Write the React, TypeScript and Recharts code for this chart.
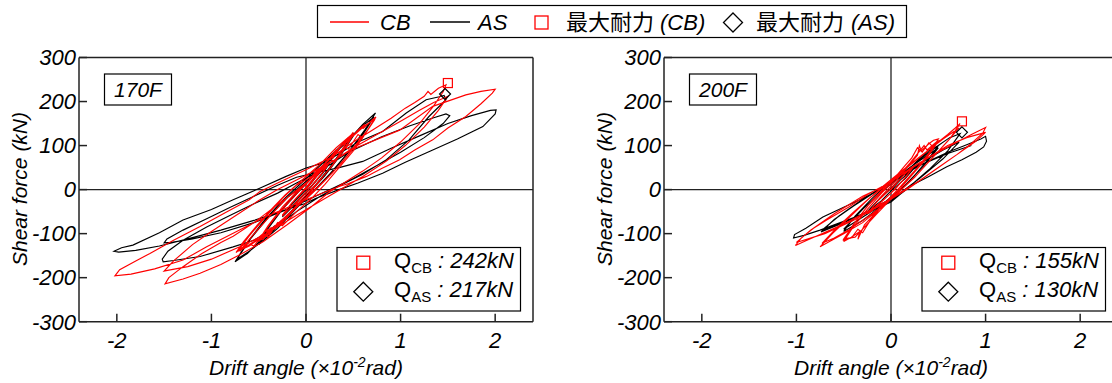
import React from 'react';
import { ComposedChart, Line, Scatter, XAxis, YAxis, ReferenceLine } from 'recharts';

// ---------- data ----------
const xTicks = [-2, -1, 0, 1, 2];
const yTicks = [-300, -200, -100, 0, 100, 200, 300];
const xDomain: [number, number] = [-2.4, 2.4];
const yDomain: [number, number] = [-300, 300];

const panelNames = ['170F', '200F'];
const cbMaxLabels = ['242kN', '155kN'];
const asMaxLabels = ['217kN', '130kN'];

// 170F, CB (red) : [drift angle, shear force]
const cb170: [number, number][] = [
  [0, 0], [0.08, 22], [0.15, 40], [0.22, 55], [0.25, 62], [0.2, 45], [0.1, 18], [0, -6], [-0.1, -28], [-0.18, -45], [-0.25, -60], [-0.2, -44], [-0.1, -18], [0, 5],
  [0.1, 30], [0.25, 63], [0.17, 38], [0.05, 6], [-0.1, -30], [-0.25, -58], [-0.15, -30], [0, 2],
  [0.12, 35], [0.22, 62], [0.3, 80], [0.28, 70], [0.36, 96], [0.42, 108], [0.4, 98], [0.47, 122], [0.5, 130], [0.45, 108], [0.35, 75], [0.22, 40], [0.1, 8], [0, -18],
  [-0.12, -45], [-0.22, -68], [-0.3, -85], [-0.28, -74], [-0.38, -98], [-0.45, -110], [-0.42, -100], [-0.5, -118], [-0.44, -95], [-0.32, -62], [-0.18, -28], [-0.05, 2],
  [0.08, 30], [0.2, 58], [0.32, 90], [0.3, 80], [0.42, 112], [0.5, 125], [0.42, 96], [0.28, 55], [0.12, 15], [0, -12],
  [-0.15, -48], [-0.3, -82], [-0.38, -88], [-0.45, -112], [-0.5, -115], [-0.4, -82], [-0.25, -40], [-0.1, -5],
  [0.05, 25], [0.2, 60], [0.35, 95], [0.45, 118], [0.42, 105], [0.55, 135], [0.62, 148], [0.6, 138], [0.7, 158], [0.74, 165], [0.65, 135], [0.52, 100], [0.38, 62], [0.22, 25], [0.08, -5],
  [-0.1, -40], [-0.3, -80], [-0.42, -100], [-0.4, -90], [-0.55, -118], [-0.65, -132], [-0.62, -122], [-0.74, -143], [-0.66, -118], [-0.52, -82], [-0.38, -48], [-0.22, -12], [-0.05, 20],
  [0.15, 58], [0.32, 95], [0.5, 128], [0.48, 118], [0.62, 145], [0.73, 160], [0.62, 125], [0.45, 80], [0.28, 38], [0.12, 5],
  [-0.05, -28], [-0.25, -68], [-0.45, -105], [-0.6, -128], [-0.72, -140], [-0.6, -105], [-0.42, -60], [-0.25, -20], [-0.1, 10],
  [0.1, 35], [0.25, 70], [0.3, 62], [0.4, 98], [0.45, 92], [0.55, 125], [0.6, 118], [0.7, 152], [0.72, 158], [0.6, 118], [0.5, 88], [0.35, 50], [0.2, 12], [0.05, -22],
  [-0.1, -50], [-0.25, -82], [-0.3, -75], [-0.4, -108], [-0.45, -100], [-0.55, -128], [-0.62, -122], [-0.7, -140], [-0.58, -108], [-0.4, -65], [-0.2, -18], [0, 12],
  [0.1, 40], [0.3, 78], [0.5, 108], [0.7, 135], [0.9, 162], [1.05, 185], [1.15, 198], [1.25, 212], [1.29, 223], [1.32, 216], [1.4, 230], [1.48, 238], [1.45, 222], [1.35, 190], [1.2, 150], [1.0, 108], [0.8, 72], [0.6, 42], [0.4, 15], [0.25, -5],
  [0.05, -40], [-0.2, -80], [-0.45, -118], [-0.7, -148], [-0.9, -170], [-1.12, -190], [-1.3, -203], [-1.49, -214], [-1.45, -200], [-1.3, -175], [-1.1, -145], [-0.9, -120], [-0.77, -106], [-0.55, -75], [-0.35, -42], [-0.15, -10], [0, 15],
  [0.25, 60], [0.5, 95], [0.75, 125], [1.0, 155], [1.2, 180], [1.35, 198], [1.5, 212], [1.4, 180], [1.25, 142], [1.05, 100], [0.85, 65], [0.6, 30], [0.4, 5], [0.2, -20],
  [-0.1, -58], [-0.4, -98], [-0.7, -130], [-1.0, -158], [-1.25, -175], [-1.45, -183], [-1.5, -185], [-1.4, -162], [-1.2, -125], [-1.0, -95], [-0.75, -60], [-0.5, -25], [-0.3, 0], [-0.1, 22],
  [0.2, 55], [0.5, 92], [0.99, 135], [1.34, 189], [1.69, 215], [1.85, 223], [2.0, 228], [1.97, 219], [1.85, 195], [1.69, 166], [1.5, 140], [1.34, 113], [1.15, 90], [0.99, 68], [0.8, 48], [0.64, 30], [0.45, 14], [0.35, 7], [0.15, -10], [0, -23],
  [-0.42, -61], [-0.77, -99], [-1.05, -130], [-1.3, -160], [-1.6, -180], [-1.85, -192], [-2.02, -196], [-1.97, -182], [-1.8, -162], [-1.65, -145], [-1.4, -115], [-1.12, -84], [-0.85, -52], [-0.6, -23], [-0.49, -5], [-0.3, 15], [0, 45], [0.28, 75],
];

// 170F, AS (black)
const as170: [number, number][] = [
  [0, 0], [0.1, 28], [0.2, 52], [0.25, 60], [0.18, 38], [0.05, 5], [-0.1, -30], [-0.25, -62], [-0.16, -35], [0, 0],
  [0.12, 32], [0.25, 62], [0.15, 30], [0, -5], [-0.25, -60], [-0.12, -25], [0, 4],
  [0.15, 42], [0.3, 80], [0.28, 72], [0.4, 105], [0.5, 128], [0.4, 95], [0.25, 50], [0.1, 10], [-0.05, -25], [-0.2, -62], [-0.35, -92], [-0.33, -82], [-0.5, -122], [-0.4, -88], [-0.25, -45], [-0.08, -5],
  [0.1, 35], [0.3, 82], [0.5, 122], [0.38, 82], [0.2, 32], [0, -15], [-0.25, -70], [-0.5, -118], [-0.35, -70], [-0.15, -18],
  [0.05, 25], [0.25, 72], [0.45, 118], [0.43, 108], [0.6, 148], [0.735, 174], [0.62, 135], [0.45, 85], [0.28, 40], [0.1, 0],
  [-0.1, -42], [-0.3, -88], [-0.5, -125], [-0.48, -115], [-0.62, -145], [-0.75, -164], [-0.62, -120], [-0.45, -72], [-0.25, -25], [-0.05, 15],
  [0.2, 65], [0.45, 115], [0.6, 145], [0.72, 165], [0.6, 125], [0.42, 78], [0.25, 35], [0.05, -10],
  [-0.2, -62], [-0.45, -115], [-0.6, -140], [-0.73, -158], [-0.58, -110], [-0.38, -58], [-0.18, -15],
  [0.05, 28], [0.3, 75], [0.55, 108], [0.81, 132], [1.06, 174], [1.27, 204], [1.41, 211], [1.46, 214], [1.48, 204], [1.3, 166], [1.09, 113], [0.85, 68], [0.6, 35], [0.35, 8], [0.15, -15],
  [-0.1, -50], [-0.35, -90], [-0.55, -115], [-0.77, -130], [-1.12, -152], [-1.4, -161], [-1.51, -164], [-1.52, -158], [-1.46, -140], [-1.3, -115], [-1.05, -85], [-0.8, -58], [-0.55, -32], [-0.3, -8], [-0.1, 15],
  [0.15, 42], [0.45, 85], [0.8, 120], [1.1, 145], [1.35, 163], [1.48, 172], [1.52, 168], [1.45, 150], [1.25, 118], [1.0, 85], [0.75, 55], [0.5, 25], [0.3, 5], [0.1, -15],
  [-0.2, -45], [-0.55, -75], [-0.9, -98], [-1.2, -112], [-1.42, -120], [-1.5, -121], [-1.47, -112], [-1.3, -92], [-1.05, -66], [-0.8, -40], [-0.55, -15], [-0.3, 10], [-0.1, 28],
  [0.1, 38], [0.35, 50], [0.6, 64], [0.9, 94], [1.2, 122], [1.5, 150], [1.75, 168], [1.95, 180], [2.01, 181], [2.0, 172], [1.87, 143], [1.6, 115], [1.34, 90], [1.05, 62], [0.81, 37], [0.55, 15], [0.35, 0], [0.1, -20], [0, -31],
  [-0.2, -45], [-0.55, -70], [-0.9, -92], [-1.25, -112], [-1.55, -128], [-1.8, -138], [-1.98, -142], [-2.03, -140], [-1.95, -132], [-1.83, -126], [-1.55, -98], [-1.3, -69], [-1.0, -45], [-0.77, -23], [-0.49, 3], [-0.21, 30], [0, 49], [0.28, 67],
];

// 200F, CB (red)
const cb200: [number, number][] = [
  [0, 0], [0.1, 25], [0.2, 48], [0.25, 55], [0.18, 35], [0.05, 2], [-0.1, -28], [-0.2, -48], [-0.25, -55], [-0.15, -28], [0, 2],
  [0.12, 30], [0.25, 55], [0.12, 20], [0, -8], [-0.25, -55], [-0.1, -15],
  [0.05, 20], [0.18, 52], [0.28, 78], [0.3, 100], [0.32, 88], [0.4, 104], [0.45, 112], [0.5, 115], [0.42, 88], [0.28, 50], [0.12, 12], [0, -18],
  [-0.15, -50], [-0.28, -80], [-0.35, -113], [-0.33, -95], [-0.42, -108], [-0.5, -118], [-0.4, -85], [-0.25, -45], [-0.1, -8],
  [0.05, 25], [0.2, 60], [0.35, 100], [0.38, 90], [0.48, 108], [0.5, 110], [0.38, 72], [0.2, 28], [0.05, -10],
  [-0.15, -55], [-0.3, -90], [-0.38, -108], [-0.5, -112], [-0.35, -65], [-0.18, -20],
  [0.02, 22], [0.15, 55], [0.22, 72], [0.28, 95], [0.33, 85], [0.4, 106], [0.44, 98], [0.5, 112], [0.4, 80], [0.25, 40], [0.08, 2],
  [-0.1, -38], [-0.22, -70], [-0.3, -98], [-0.35, -90], [-0.42, -110], [-0.5, -114], [-0.4, -80], [-0.25, -38], [-0.08, 0],
  [0, 20], [0.2, 55], [0.4, 90], [0.5, 108], [0.6, 125], [0.68, 140], [0.73, 150], [0.62, 115], [0.45, 75], [0.28, 35], [0.1, -2],
  [-0.1, -40], [-0.3, -75], [-0.5, -100], [-0.65, -118], [-0.75, -130], [-0.62, -100], [-0.45, -65], [-0.28, -30], [-0.1, 5],
  [0.1, 40], [0.35, 82], [0.55, 115], [0.72, 140], [0.6, 110], [0.42, 68], [0.25, 28], [0.05, -12],
  [-0.2, -55], [-0.45, -92], [-0.6, -110], [-0.73, -122], [-0.58, -88], [-0.4, -52], [-0.22, -18],
  [0, 18], [0.25, 55], [0.5, 85], [0.7, 108], [0.85, 125], [1.0, 141], [0.97, 128], [0.85, 105], [0.7, 80], [0.5, 50], [0.3, 20], [0.15, 0], [0, -20],
  [-0.25, -50], [-0.5, -78], [-0.75, -102], [-0.9, -116], [-1.01, -127], [-0.95, -110], [-0.82, -88], [-0.68, -69], [-0.45, -40], [-0.23, -9],
  [0, 18], [0.3, 60], [0.6, 100], [0.8, 118], [1.0, 130], [0.9, 110], [0.7, 80], [0.4, 35], [0.2, 5],
  [-0.1, -35], [-0.4, -70], [-0.7, -100], [-1.0, -120], [-0.85, -92], [-0.6, -55], [-0.3, -15], [0, 15],
];

// 200F, AS (black)
const as200: [number, number][] = [
  [0, 0], [0.1, 22], [0.25, 50], [0.15, 25], [0, -3], [-0.1, -25], [-0.25, -50], [-0.12, -20], [0, 3],
  [0.15, 38], [0.3, 70], [0.4, 88], [0.5, 100], [0.38, 65], [0.2, 20], [0.05, -10], [-0.15, -45], [-0.3, -70], [-0.5, -95], [-0.38, -60], [-0.2, -20], [-0.05, 10],
  [0.2, 50], [0.5, 95], [0.35, 55], [0.15, 10], [-0.1, -35], [-0.5, -90], [-0.3, -45], [-0.1, -5],
  [0.1, 30], [0.3, 68], [0.5, 100], [0.62, 118], [0.73, 127], [0.6, 88], [0.4, 45], [0.2, 8], [0, -25],
  [-0.25, -52], [-0.5, -75], [-0.65, -88], [-0.74, -96], [-0.6, -68], [-0.4, -38], [-0.2, -10], [0, 15],
  [0.3, 58], [0.55, 90], [0.72, 108], [0.55, 70], [0.3, 25], [0.05, -15], [-0.3, -55], [-0.55, -78], [-0.73, -92], [-0.55, -60], [-0.3, -22], [-0.1, 5],
  [0.1, 30], [0.35, 60], [0.6, 85], [0.8, 102], [0.95, 115], [1.0, 121], [1.01, 110], [0.98, 97], [0.9, 85], [0.75, 68], [0.59, 52], [0.4, 30], [0.22, 10], [0.1, -10], [0, -28],
  [-0.25, -52], [-0.5, -72], [-0.75, -92], [-0.92, -104], [-1.03, -110], [-1.02, -102], [-0.9, -88], [-0.72, -62], [-0.5, -40], [-0.34, -24], [-0.16, -5], [0, 15], [0.3, 55], [0.6, 82], [0.85, 100],
];

// maximum strength points
const cbMax170: [number, number][] = [[1.5, 242]];
const asMax170: [number, number][] = [[1.47, 217]];
const cbMax200: [number, number][] = [[0.75, 155]];
const asMax200: [number, number][] = [[0.75, 130]];

// ---------- rendering ----------
const FONT = "'Liberation Sans', Arial, Helvetica, sans-serif";
const CJK = "'Noto Sans CJK JP', 'Noto Sans CJK SC', sans-serif";
const RED = '#ff0000';
const FRAME = '#222';

const toPts = (arr: [number, number][]) => arr.map(([x, y]) => ({ x, y }));

const SquareShape = (props: any) => {
  const { cx, cy } = props;
  return <rect x={cx - 4.5} y={cy - 4.5} width={9} height={9} fill="none" stroke={RED} strokeWidth={1.2} />;
};
const DiamondShape = (props: any) => {
  const { cx, cy } = props;
  const r = 5.5;
  return (
    <path d={`M${cx},${cy - r}L${cx + r},${cy}L${cx},${cy + r}L${cx - r},${cy}Z`} fill="none" stroke="#000" strokeWidth={1.2} />
  );
};

const axisLine = { stroke: FRAME, strokeWidth: 1.5 };
const tickStyle = { fill: '#000', fontSize: 22, fontStyle: 'italic', fontFamily: FONT };

type PanelProps = {
  left: number;
  width: number;
  plotLeft: number;
  cb: [number, number][];
  as: [number, number][];
  cbMax: [number, number][];
  asMax: [number, number][];
};

const PLOT_W = 454;
const PLOT_TOP = 57.5;
const PLOT_BOTTOM = 321.7;
const CH = 383;

function Panel({ left, width, plotLeft, cb, as, cbMax, asMax }: PanelProps) {
  const mLeft = plotLeft - left - 10;
  const mRight = width - (plotLeft - left + PLOT_W) - 10;
  return (
    <div style={{ position: 'absolute', left, top: 0 }}>
      <ComposedChart
        width={width}
        height={CH}
        margin={{ top: PLOT_TOP - 10, bottom: CH - PLOT_BOTTOM - 10, left: mLeft, right: mRight }}
      >
        <XAxis
          dataKey="x"
          type="number"
          domain={xDomain}
          ticks={xTicks}
          allowDataOverflow
          height={10}
          tickSize={-8}
          tickMargin={19}
          tick={tickStyle}
          axisLine={axisLine}
          tickLine={axisLine}
          interval={0}
        />
        <XAxis
          xAxisId="top"
          orientation="top"
          dataKey="x"
          type="number"
          domain={xDomain}
          ticks={xTicks}
          allowDataOverflow
          height={10}
          tickSize={-8}
          tick={false}
          axisLine={axisLine}
          tickLine={axisLine}
          interval={0}
        />
        <YAxis
          dataKey="y"
          type="number"
          domain={yDomain}
          ticks={yTicks}
          allowDataOverflow
          width={10}
          tickSize={-8}
          tickMargin={11}
          tick={tickStyle}
          axisLine={axisLine}
          tickLine={axisLine}
          interval={0}
        />
        <YAxis
          yAxisId="right"
          orientation="right"
          dataKey="y"
          type="number"
          domain={yDomain}
          ticks={yTicks}
          allowDataOverflow
          width={10}
          tickSize={-8}
          tick={false}
          axisLine={axisLine}
          tickLine={axisLine}
          interval={0}
        />
        <ReferenceLine x={0} stroke={FRAME} strokeWidth={1.3} />
        <ReferenceLine y={0} stroke={FRAME} strokeWidth={1.3} />
        <Line data={toPts(as)} dataKey="y" type="linear" stroke="#000" strokeWidth={1.15} dot={false} activeDot={false} isAnimationActive={false} />
        <Line data={toPts(cb)} dataKey="y" type="linear" stroke={RED} strokeWidth={1.15} dot={false} activeDot={false} isAnimationActive={false} />
        <Scatter data={toPts(cbMax)} dataKey="y" shape={SquareShape} isAnimationActive={false} />
        <Scatter data={toPts(asMax)} dataKey="y" shape={DiamondShape} isAnimationActive={false} />
      </ComposedChart>
    </div>
  );
}

function PanelDecor({ plotLeft, name, qcb, qas }: { plotLeft: number; name: string; qcb: string; qas: string }) {
  const bx = plotLeft + 258;
  const mx = plotLeft + 284.3;
  return (
    <g fontFamily={FONT}>
      <text transform={`translate(${plotLeft - 52},189) rotate(-90)`} textAnchor="middle" fontSize={21} fontStyle="italic">
        Shear force (kN)
      </text>
      <text x={plotLeft + 227} y={375} textAnchor="middle" fontSize={21} fontStyle="italic">
        Drift angle (×10
        <tspan dy={-8} fontSize={14}>-2</tspan>
        <tspan dy={8}>rad)</tspan>
      </text>
      <rect x={plotLeft + 25.5} y={74} width={67} height={31} fill="#fff" stroke="#000" strokeWidth={1.2} />
      <text x={plotLeft + 59} y={97} textAnchor="middle" fontSize={21} fontStyle="italic">
        {name}
      </text>
      <rect x={bx} y={247.5} width={183.5} height={63.5} fill="#fff" stroke="#000" strokeWidth={1.2} />
      <rect x={mx - 6.5} y={256.2} width={13} height={13} fill="none" stroke={RED} strokeWidth={1.3} />
      <path d={`M${mx},${282.2}L${mx + 9.5},${291.7}L${mx},${301.2}L${mx - 9.5},${291.7}Z`} fill="none" stroke="#000" strokeWidth={1.3} />
      <text x={plotLeft + 315} y={268} fontSize={22}>
        Q<tspan fontSize={15} dy={5}>CB</tspan>
        <tspan dy={-5} fontStyle="italic"> : {qcb}</tspan>
      </text>
      <text x={plotLeft + 315} y={297} fontSize={22}>
        Q<tspan fontSize={15} dy={5}>AS</tspan>
        <tspan dy={-5} fontStyle="italic"> : {qas}</tspan>
      </text>
    </g>
  );
}

function TopLegend() {
  return (
    <g fontFamily={FONT} fontSize={22}>
      <rect x={317.5} y={5.5} width={589} height={32} fill="#fff" stroke="#000" strokeWidth={1.2} />
      <line x1={330} x2={369} y1={22} y2={22} stroke={RED} strokeWidth={1.3} />
      <text x={380} y={29.5} fontStyle="italic">CB</text>
      <line x1={430} x2={470} y1={22} y2={22} stroke="#000" strokeWidth={1.3} />
      <text x={478} y={29.5} fontStyle="italic">AS</text>
      <rect x={535} y={16} width={13} height={13} fill="none" stroke={RED} strokeWidth={1.3} />
      <text x={566} y={30} fontFamily={CJK} fontSize={22}>最大耐力</text>
      <text x={660} y={29.5} fontStyle="italic">(CB)</text>
      <path d="M733,13L742.5,22.5L733,32L723.5,22.5Z" fill="none" stroke="#000" strokeWidth={1.3} />
      <text x={756} y={30} fontFamily={CJK} fontSize={22}>最大耐力</text>
      <text x={851} y={29.5} fontStyle="italic">(AS)</text>
    </g>
  );
}

export default function App() {
  return (
    <div style={{ position: 'absolute', left: 0, top: 0, width: 1112, height: 383, overflow: 'hidden', background: '#fff' }}>
      <Panel left={0} width={560} plotLeft={79} cb={cb170} as={as170} cbMax={cbMax170} asMax={asMax170} />
      <Panel left={560} width={580} plotLeft={664} cb={cb200} as={as200} cbMax={cbMax200} asMax={asMax200} />
      <svg width={1112} height={383} style={{ position: 'absolute', left: 0, top: 0, pointerEvents: 'none' }}>
        <TopLegend />
        <PanelDecor plotLeft={79} name={panelNames[0]} qcb={cbMaxLabels[0]} qas={asMaxLabels[0]} />
        <PanelDecor plotLeft={664} name={panelNames[1]} qcb={cbMaxLabels[1]} qas={asMaxLabels[1]} />
      </svg>
    </div>
  );
}
